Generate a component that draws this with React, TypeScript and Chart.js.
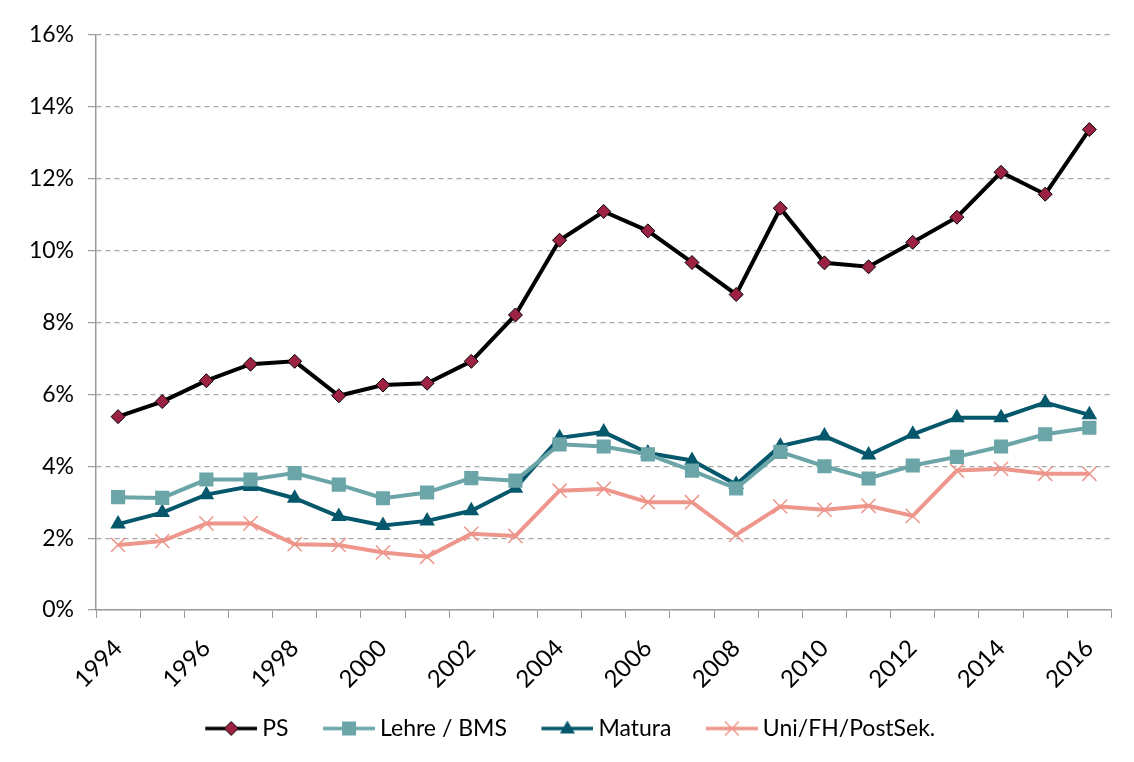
import React, { useEffect, useRef } from "react";
import { Chart, registerables } from "chart.js";

Chart.register(...registerables);

const years = ["1994","1995","1996","1997","1998","1999","2000","2001","2002","2003","2004","2005","2006","2007","2008","2009","2010","2011","2012","2013","2014","2015","2016"];
const psValues = [5.38,5.80,6.38,6.84,6.92,5.96,6.26,6.31,6.92,8.21,10.29,11.09,10.55,9.67,8.78,11.18,9.66,9.55,10.23,10.93,12.18,11.57,13.37];
const lehreValues = [3.14,3.12,3.63,3.63,3.81,3.49,3.11,3.27,3.67,3.60,4.61,4.55,4.33,3.88,3.38,4.40,4.00,3.66,4.02,4.26,4.55,4.89,5.07];
const maturaValues = [2.39,2.71,3.21,3.44,3.11,2.60,2.35,2.48,2.76,3.39,4.79,4.95,4.37,4.16,3.49,4.56,4.84,4.31,4.89,5.35,5.35,5.77,5.43];
const uniValues = [1.81,1.92,2.41,2.41,1.83,1.81,1.60,1.48,2.12,2.06,3.32,3.37,3.00,3.00,2.09,2.88,2.79,2.90,2.62,3.88,3.93,3.79,3.79];
const seriesNames = ["PS", "Lehre / BMS", "Matura", "Uni/FH/PostSek."];
const yTicks = [0, 2, 4, 6, 8, 10, 12, 14, 16];

const FONT = "Lato";
const C_PS_LINE = "#000000";
const C_PS_FILL = "#9B2242";
const C_LEHRE = "#6BA5A8";
const C_MATURA = "#05586B";
const C_UNI = "#EE968B";

// legend icon: transparent left part (spacing), then 52px line+marker
function makeIcon(kind: string): HTMLCanvasElement {
  const w = 78, h = 22, vis = 52;
  const c = document.createElement("canvas");
  c.width = w; c.height = h;
  const ctx = c.getContext("2d")!;
  const x0 = w - vis;
  const cy = h / 2, cx = x0 + vis / 2;
  let line = C_PS_LINE;
  if (kind === "lehre") line = C_LEHRE;
  if (kind === "matura") line = C_MATURA;
  if (kind === "uni") line = C_UNI;
  ctx.strokeStyle = line;
  ctx.lineWidth = 3.5;
  ctx.beginPath(); ctx.moveTo(x0, cy); ctx.lineTo(w, cy); ctx.stroke();
  if (kind === "ps") {
    ctx.beginPath();
    ctx.moveTo(cx, cy - 7); ctx.lineTo(cx + 7, cy); ctx.lineTo(cx, cy + 7); ctx.lineTo(cx - 7, cy); ctx.closePath();
    ctx.fillStyle = C_PS_FILL; ctx.fill();
    ctx.lineWidth = 1; ctx.strokeStyle = "#000"; ctx.stroke();
  } else if (kind === "lehre") {
    ctx.fillStyle = C_LEHRE; ctx.fillRect(cx - 7, cy - 7, 14, 14);
  } else if (kind === "matura") {
    ctx.beginPath();
    ctx.moveTo(cx, cy - 8); ctx.lineTo(cx + 7.5, cy + 5); ctx.lineTo(cx - 7.5, cy + 5); ctx.closePath();
    ctx.fillStyle = C_MATURA; ctx.fill();
  } else {
    ctx.strokeStyle = C_UNI; ctx.lineWidth = 1.5;
    ctx.beginPath();
    ctx.moveTo(cx - 7, cy - 7); ctx.lineTo(cx + 7, cy + 7);
    ctx.moveTo(cx + 7, cy - 7); ctx.lineTo(cx - 7, cy + 7);
    ctx.stroke();
  }
  return c;
}

export default function App() {
  const ref = useRef<HTMLCanvasElement | null>(null);
  useEffect(() => {
    if (!ref.current) return;
    const icons = [makeIcon("ps"), makeIcon("lehre"), makeIcon("matura"), makeIcon("uni")];
    const chart = new Chart(ref.current, {
      type: "line",
      data: {
        labels: years,
        datasets: [
          {
            label: seriesNames[0], data: psValues, borderColor: C_PS_LINE, borderWidth: 4,
            pointStyle: "rectRot", pointRadius: 7, pointBackgroundColor: C_PS_FILL,
            pointBorderColor: "#000", pointBorderWidth: 1, tension: 0,
          },
          {
            label: seriesNames[1], data: lehreValues, borderColor: C_LEHRE, borderWidth: 4,
            pointStyle: "rect", pointRadius: 10, pointBackgroundColor: C_LEHRE,
            pointBorderColor: C_LEHRE, pointBorderWidth: 0, tension: 0,
          },
          {
            label: seriesNames[2], data: maturaValues, borderColor: C_MATURA, borderWidth: 4,
            pointStyle: "triangle", pointRadius: 9, pointBackgroundColor: C_MATURA,
            pointBorderColor: C_MATURA, pointBorderWidth: 0, tension: 0,
          },
          {
            label: seriesNames[3], data: uniValues, borderColor: C_UNI, borderWidth: 4,
            pointStyle: "crossRot", pointRadius: 10, pointBackgroundColor: C_UNI,
            pointBorderColor: C_UNI, pointBorderWidth: 1.5, tension: 0,
          },
        ],
      },
      options: {
        animation: false,
        responsive: true,
        maintainAspectRatio: false,
        layout: { padding: { top: 28, right: 13, left: 0, bottom: 4 } },
        plugins: {
          tooltip: { enabled: false },
          legend: {
            position: "bottom",
            labels: {
              usePointStyle: true,
              pointStyleWidth: 65,
              boxHeight: 22,
              padding: 15,
              color: "#000",
              font: { family: FONT, size: 23 },
              generateLabels: (ch: any) =>
                ch.data.datasets.map((ds: any, i: number) => ({
                  text: ds.label,
                  pointStyle: icons[i],
                  fillStyle: "transparent",
                  strokeStyle: "transparent",
                  lineWidth: 0,
                  hidden: false,
                  datasetIndex: i,
                  fontColor: "#000",
                })),
            },
          },
        },
        scales: {
          x: {
            type: "category",
            offset: true,
            afterFit: (s: any) => { s.height = 92; },
            grid: {
              display: true, drawOnChartArea: false, offset: true,
              tickLength: 8, tickColor: "#999", color: "#999",
            },
            border: { display: true, color: "#999", width: 1.5 },
            ticks: {
              autoSkip: false, maxRotation: 45, minRotation: 45,
              color: "#000", font: { family: FONT, size: 24 }, padding: 16,
              callback: function (this: any, v: any, i: number) {
                const lab = years[i];
                return Number(lab) % 2 === 0 ? lab : "";
              },
            },
          },
          y: {
            min: 0, max: 16,
            afterFit: (s: any) => { s.width = 88; },
            afterBuildTicks: (s: any) => { s.ticks = yTicks.map((v) => ({ value: v })); },
            grid: {
              color: "#a6a6a6", lineWidth: 1.2, tickLength: 8, tickColor: "#999",
              tickBorderDash: [], drawTicks: true,
            } as any,
            border: { display: true, color: "#999", width: 1.5, dash: [5, 4] } as any,
            ticks: {
              color: "#000", font: { family: FONT, size: 23 }, padding: 14,
              callback: (v: any) => v + "%",
            },
          },
        },
      },
    } as any);
    return () => chart.destroy();
  }, []);
  return (
    <div
      style={{
        marginLeft: -1, marginTop: -2, width: 1119, height: 748, boxSizing: "border-box",
        borderLeft: "1px solid #a6a6a6", borderTop: "1px solid #a6a6a6",
      }}
    >
      <div style={{ position: "relative", width: 1118, height: 747 }}>
        <canvas ref={ref} />
      </div>
    </div>
  );
}
